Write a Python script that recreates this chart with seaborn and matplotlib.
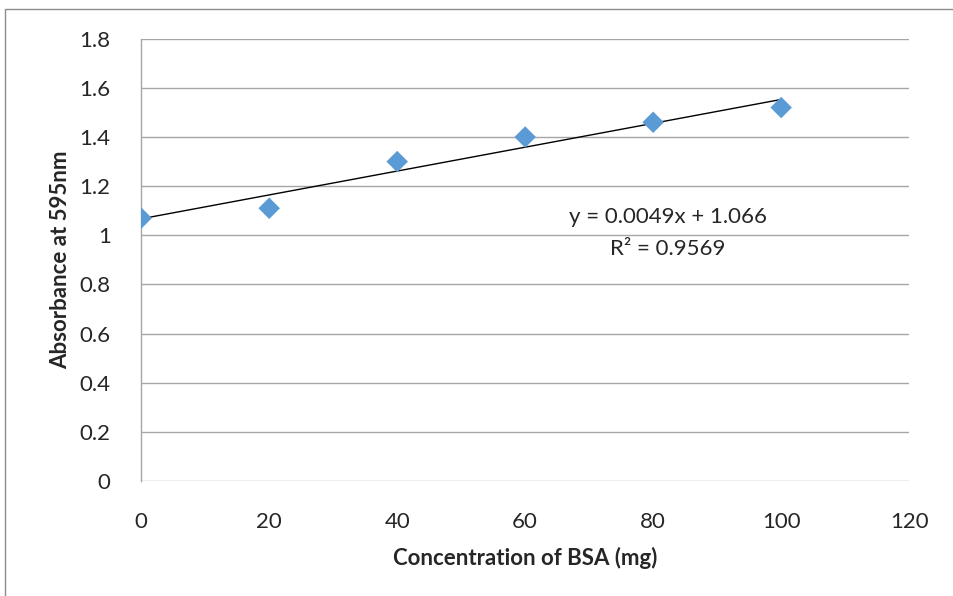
import numpy as np
import pandas as pd
import matplotlib
matplotlib.use("Agg")
import matplotlib.pyplot as plt
import seaborn as sns
from matplotlib.patches import Rectangle

# values
concentration = [0, 20, 40, 60, 80, 100]
absorbance = [1.07, 1.11, 1.30, 1.40, 1.46, 1.52]
x_ticks = [0, 20, 40, 60, 80, 100, 120]
y_ticks = [0, 0.2, 0.4, 0.6, 0.8, 1, 1.2, 1.4, 1.6, 1.8]
y_tick_labels = ["0", "0.2", "0.4", "0.6", "0.8", "1", "1.2", "1.4", "1.6", "1.8"]
equation_text = "y = 0.0049x + 1.066"
r2_text = "R² = 0.9569"

df = pd.DataFrame({"conc": concentration, "abs": absorbance})

sns.set_style("white")
plt.rcParams["font.family"] = ["Lato", "DejaVu Sans"]

fig = plt.figure(figsize=(9.54, 5.96), dpi=100)
ax = fig.add_axes([0.148, 0.193, 0.805, 0.742])

# outer chart frame
fig.patches.append(Rectangle((5 / 954, -0.05), 1.1, 1 - 9 / 596 + 0.05,
                             transform=fig.transFigure, fill=False,
                             edgecolor="#8c8c8c", linewidth=1.0))

ax.grid(axis="y", color="#a6a6a6", linewidth=1.0)
ax.set_axisbelow(True)

sns.regplot(data=df, x="conc", y="abs", ci=None, scatter=False, ax=ax,
            line_kws={"color": "black", "linewidth": 1.0})
sns.scatterplot(data=df, x="conc", y="abs", marker="D", s=120, color="#5b9bd5",
                edgecolor="none", ax=ax, zorder=3)

ax.text(82.3, 1.075, equation_text, ha="center", va="center", fontsize=16)
ax.text(82.3, 0.945, r2_text, ha="center", va="center", fontsize=16)

ax.set_xlim(0, 120)
ax.set_ylim(0, 1.8)
ax.set_xticks(x_ticks)
ax.set_xticklabels([str(t) for t in x_ticks], fontsize=16)
ax.set_yticks(y_ticks)
ax.set_yticklabels(y_tick_labels, fontsize=16)
ax.tick_params(axis="x", length=0, pad=22)
ax.tick_params(axis="y", length=0, pad=22)

for side in ["top", "right", "bottom"]:
    ax.spines[side].set_visible(False)
ax.spines["left"].set_color("#a6a6a6")
ax.spines["left"].set_linewidth(1.0)

ax.set_xlabel("Concentration of BSA (mg)", fontsize=16, fontweight="bold", labelpad=11)
ax.set_ylabel("Absorbance at 595nm", fontsize=16, fontweight="bold", labelpad=6)

plt.savefig("out.png", dpi=100)
